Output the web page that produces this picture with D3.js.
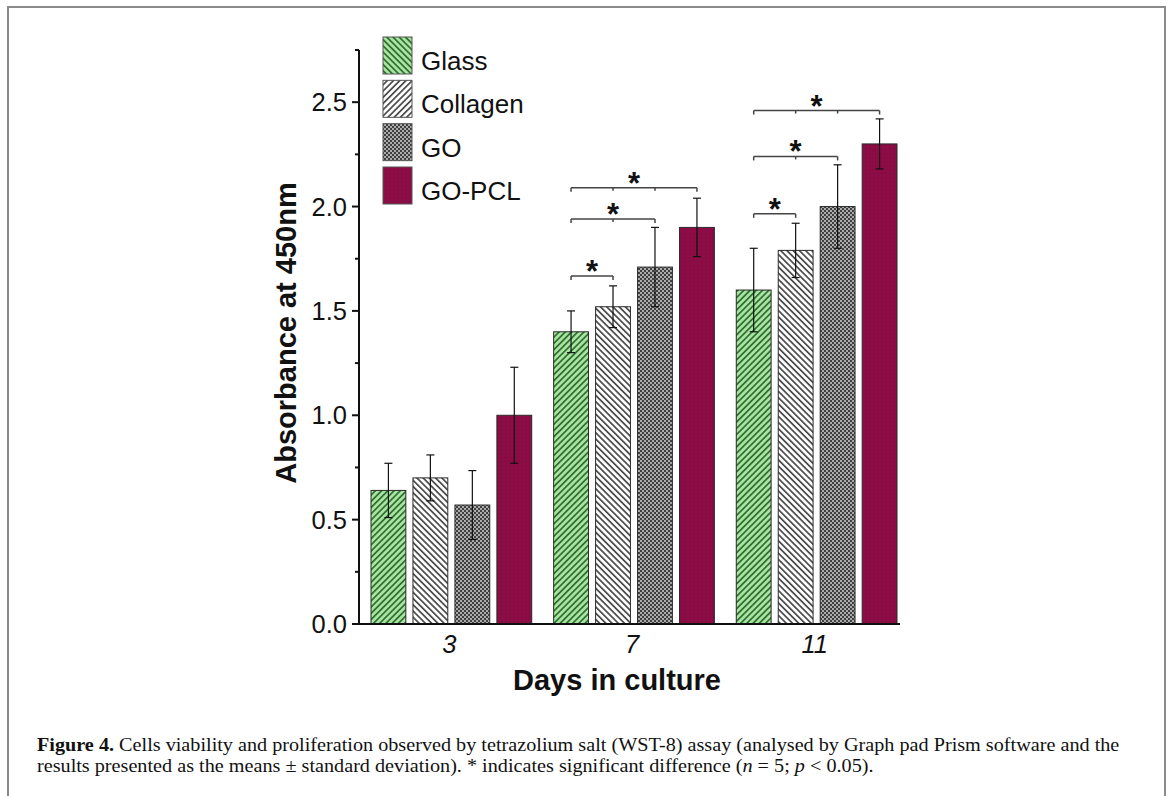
<!DOCTYPE html>
<html><head><meta charset="utf-8">
<script src="https://cdn.jsdelivr.net/npm/d3@7"></script>
<style>
html,body{margin:0;padding:0;background:#fff;}
svg{display:block;}
</style>
</head><body>
<svg id="chart" width="1171" height="796"></svg>
<script>
// ---- data ----
const days = ["3", "7", "11"];
const seriesNames = ["Glass", "Collagen", "GO", "GO-PCL"];
const glassMean = [0.64, 1.40, 1.60];
const glassSD = [0.13, 0.10, 0.20];
const collagenMean = [0.70, 1.52, 1.79];
const collagenSD = [0.11, 0.10, 0.13];
const goMean = [0.57, 1.71, 2.00];
const goSD = [0.165, 0.19, 0.20];
const goPclMean = [1.00, 1.90, 2.30];
const goPclSD = [0.23, 0.14, 0.12];
const yTicks = [0, 0.5, 1.0, 1.5, 2.0, 2.5];
const yMinorTicks = [0.25, 0.75, 1.25, 1.75, 2.25, 2.75];
// significance brackets: day, series index span (from 0 to 'to'), bracket height
const sigDay = ["7", "7", "7", "11", "11", "11"];
const sigTo = [1, 2, 3, 1, 2, 3];
const sigY = [1.667, 1.94, 2.09, 1.965, 2.24, 2.46];

const means = [glassMean, collagenMean, goMean, goPclMean];
const sds = [glassSD, collagenSD, goSD, goPclSD];
const rows = [];
days.forEach((d, i) => seriesNames.forEach((s, j) => rows.push({day: d, series: s, si: j, mean: means[j][i], sd: sds[j][i]})));

const svg = d3.select("#chart");
svg.append("rect").attr("width", 1171).attr("height", 796).attr("fill", "#fff");
// frame
svg.append("rect").attr("x", 8).attr("y", 7).attr("width", 1157).attr("height", 820)
  .attr("fill", "none").attr("stroke", "#8a8a8a").attr("stroke-width", 2);

// ---- patterns ----
const defs = svg.append("defs");
function stripes(id, bg, fg, angle) {
  const p = defs.append("pattern").attr("id", id).attr("patternUnits", "userSpaceOnUse")
    .attr("width", 4.4).attr("height", 4.4).attr("patternTransform", `rotate(${angle})`);
  p.append("rect").attr("width", 4.4).attr("height", 4.4).attr("fill", bg);
  p.append("rect").attr("width", 1.7).attr("height", 4.4).attr("fill", fg);
}
stripes("pGlass", "#a9e4a2", "#2e6e30", 45);
stripes("pCollagen", "#ffffff", "#4a4a4a", -45);
stripes("pGlassL", "#a9e4a2", "#2e6e30", -45);
stripes("pCollagenL", "#ffffff", "#4a4a4a", 45);
(function () {
  const p = defs.append("pattern").attr("id", "pGO").attr("patternUnits", "userSpaceOnUse")
    .attr("width", 4).attr("height", 4);
  p.append("rect").attr("width", 4).attr("height", 4).attr("fill", "#404040");
  p.append("rect").attr("x", 0).attr("y", 0).attr("width", 2).attr("height", 2).attr("fill", "#ababab");
  p.append("rect").attr("x", 2).attr("y", 2).attr("width", 2).attr("height", 2).attr("fill", "#ababab");
})();
(function () {
  const p = defs.append("pattern").attr("id", "pPCL").attr("patternUnits", "userSpaceOnUse")
    .attr("width", 4).attr("height", 4);
  p.append("rect").attr("width", 4).attr("height", 4).attr("fill", "#8c0c45");
  p.append("rect").attr("x", 1).attr("y", 1).attr("width", 1).attr("height", 1).attr("fill", "#7a0a3b");
})();
const barFill = ["url(#pGlass)", "url(#pCollagen)", "url(#pGO)", "url(#pPCL)"];
const legFill = ["url(#pGlassL)", "url(#pCollagenL)", "url(#pGO)", "url(#pPCL)"];

// ---- scales ----
const y = d3.scaleLinear().domain([0, 2.75]).range([624, 50]);
const x0 = d3.scaleBand().domain(days).range([371, 897]).paddingInner(0.12).paddingOuter(0);
const x1 = d3.scaleBand().domain(seriesNames).range([0, x0.bandwidth()]).paddingInner(0.17).paddingOuter(0);
const axX0 = 359, axX1 = 900;

// ---- bars ----
const g = svg.append("g");
g.selectAll("rect.bar").data(rows).join("rect").attr("class", "bar")
  .attr("x", d => x0(d.day) + x1(d.series))
  .attr("y", d => y(d.mean))
  .attr("width", x1.bandwidth())
  .attr("height", d => y(0) - y(d.mean))
  .attr("fill", d => barFill[d.si])
  .attr("stroke", "#2a2a2a").attr("stroke-width", 1);

// error bars
const cx = d => x0(d.day) + x1(d.series) + x1.bandwidth() / 2;
const eb = g.selectAll("g.err").data(rows).join("g").attr("class", "err")
  .attr("stroke", "#111").attr("stroke-width", 1.2);
eb.append("line").attr("x1", cx).attr("x2", cx).attr("y1", d => y(d.mean + d.sd)).attr("y2", d => y(d.mean - d.sd));
eb.append("line").attr("x1", d => cx(d) - 4).attr("x2", d => cx(d) + 4).attr("y1", d => y(d.mean + d.sd)).attr("y2", d => y(d.mean + d.sd));
eb.append("line").attr("x1", d => cx(d) - 4).attr("x2", d => cx(d) + 4).attr("y1", d => y(d.mean - d.sd)).attr("y2", d => y(d.mean - d.sd));

// significance brackets
const sig = sigDay.map((d, i) => ({day: d, to: sigTo[i], yv: sigY[i]}));
const sc = (day, k) => x0(day) + x1(seriesNames[k]) + x1.bandwidth() / 2;
const sg = g.selectAll("g.sig").data(sig).join("g").attr("class", "sig");
sg.append("line").attr("stroke", "#444").attr("stroke-width", 1.5)
  .attr("x1", d => sc(d.day, 0)).attr("x2", d => sc(d.day, d.to))
  .attr("y1", d => y(d.yv)).attr("y2", d => y(d.yv));
sg.each(function (d) {
  const gg = d3.select(this);
  for (let k = 0; k <= d.to; k++) {
    const end = (k === 0 || k === d.to);
    gg.append("line").attr("stroke", "#444").attr("stroke-width", 1.5)
      .attr("x1", sc(d.day, k)).attr("x2", sc(d.day, k))
      .attr("y1", y(d.yv)).attr("y2", y(d.yv) + (end ? 4 : 3));
  }
});
sg.append("text").text("*")
  .attr("x", d => (sc(d.day, 0) + sc(d.day, d.to)) / 2)
  .attr("y", d => y(d.yv) + 6)
  .attr("text-anchor", "middle")
  .attr("font-family", "Liberation Sans, Arial, sans-serif").attr("font-size", 31)
  .attr("font-weight", "bold").attr("fill", "#111");

// ---- axes ----
const ax = svg.append("g").attr("font-family", "Liberation Sans, Arial, sans-serif");
ax.append("line").attr("x1", axX0).attr("x2", axX0).attr("y1", y(2.75)).attr("y2", y(0) + 1)
  .attr("stroke", "#111").attr("stroke-width", 2);
ax.append("line").attr("x1", axX0 - 1).attr("x2", axX1).attr("y1", y(0)).attr("y2", y(0))
  .attr("stroke", "#111").attr("stroke-width", 2);
ax.selectAll("line.maj").data(yTicks).join("line").attr("class", "maj")
  .attr("x1", axX0 - 7).attr("x2", axX0).attr("y1", d => y(d)).attr("y2", d => y(d))
  .attr("stroke", "#111").attr("stroke-width", 2);
ax.selectAll("line.min").data(yMinorTicks).join("line").attr("class", "min")
  .attr("x1", axX0 - 4).attr("x2", axX0).attr("y1", d => y(d)).attr("y2", d => y(d))
  .attr("stroke", "#111").attr("stroke-width", 2);
ax.selectAll("text.yt").data(yTicks).join("text").attr("class", "yt")
  .attr("x", 347).attr("y", d => y(d)).attr("dy", "0.36em")
  .attr("text-anchor", "end").attr("font-size", 25.5).attr("fill", "#111")
  .text(d => d3.format(".1f")(d));
ax.selectAll("text.xt").data(days).join("text").attr("class", "xt")
  .attr("x", d => x0(d) + x0.bandwidth() / 2 - 2).attr("y", 653)
  .attr("text-anchor", "middle").attr("font-size", 25.5).attr("font-style", "italic").attr("fill", "#111")
  .text(d => d);
ax.append("text").attr("x", 617).attr("y", 690).attr("text-anchor", "middle")
  .attr("font-size", 29).attr("font-weight", "bold").attr("fill", "#111").text("Days in culture");
ax.append("text").attr("transform", "translate(296,333) rotate(-90)").attr("text-anchor", "middle")
  .attr("font-size", 29).attr("font-weight", "bold").attr("fill", "#111").text("Absorbance at 450nm");

// ---- legend ----
const lg = svg.append("g").attr("font-family", "Liberation Sans, Arial, sans-serif");
const legY = d3.scalePoint().domain(seriesNames).range([37, 167]);
lg.selectAll("rect").data(seriesNames).join("rect")
  .attr("x", 383).attr("y", d => legY(d)).attr("width", 29).attr("height", 37)
  .attr("fill", (d, i) => legFill[i]).attr("stroke", "#555").attr("stroke-width", 1);
lg.selectAll("text").data(seriesNames).join("text")
  .attr("x", 421).attr("y", d => legY(d) + 33)
  .attr("font-size", 26).attr("fill", "#111").text(d => d);

// ---- caption ----
const cap = svg.append("g").attr("font-family", "Liberation Serif, 'Times New Roman', serif").attr("fill", "#111");
const l1 = cap.append("text").attr("x", 0).attr("y", 0).attr("font-size", 18.5);
l1.append("tspan").attr("font-weight", "bold").text("Figure 4.");
l1.append("tspan").text(" Cells viability and proliferation observed by tetrazolium salt (WST-8) assay (analysed by Graph pad Prism software and the");
const l2 = cap.append("text").attr("x", 0).attr("y", 0).attr("font-size", 18.5);
l2.append("tspan").text("results presented as the means \u00B1 standard deviation). * indicates significant difference (");
l2.append("tspan").attr("font-style", "italic").text("n");
l2.append("tspan").text(" = 5; ");
l2.append("tspan").attr("font-style", "italic").text("p");
l2.append("tspan").text(" < 0.05).");
const w1 = l1.node().getComputedTextLength();
const sx = 1083 / w1;
l1.attr("transform", `translate(37,751) scale(${sx},1)`);
l2.attr("transform", `translate(37,772) scale(${sx},1)`);
</script>
</body></html>
